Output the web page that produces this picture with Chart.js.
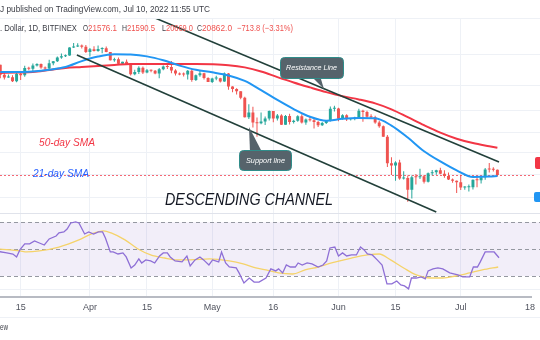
<!DOCTYPE html>
<html><head><meta charset="utf-8">
<script src="https://cdn.jsdelivr.net/npm/chart.js@4.4.1/dist/chart.umd.min.js"></script>
<style>html,body{margin:0;padding:0;background:#fff;overflow:hidden}canvas{display:block}</style>
</head><body>
<canvas id="c" width="540" height="340"></canvas>
<script>
// ---------- DATA (BTC/USD, Bitfinex, daily) ----------
const dates = [
 '03-09','03-10','03-11','03-12','03-13','03-14','03-15','03-16','03-17','03-18','03-19','03-20','03-21','03-22','03-23','03-24','03-25','03-26','03-27','03-28','03-29','03-30','03-31',
 '04-01','04-02','04-03','04-04','04-05','04-06','04-07','04-08','04-09','04-10','04-11','04-12','04-13','04-14','04-15','04-16','04-17','04-18','04-19','04-20','04-21','04-22','04-23','04-24','04-25','04-26','04-27','04-28','04-29','04-30',
 '05-01','05-02','05-03','05-04','05-05','05-06','05-07','05-08','05-09','05-10','05-11','05-12','05-13','05-14','05-15','05-16','05-17','05-18','05-19','05-20','05-21','05-22','05-23','05-24','05-25','05-26','05-27','05-28','05-29','05-30','05-31',
 '06-01','06-02','06-03','06-04','06-05','06-06','06-07','06-08','06-09','06-10','06-11','06-12','06-13','06-14','06-15','06-16','06-17','06-18','06-19','06-20','06-21','06-22','06-23','06-24','06-25','06-26','06-27','06-28','06-29','06-30',
 '07-01','07-02','07-03','07-04','07-05','07-06','07-07','07-08','07-09','07-10'];
const opens = [
 38730,41940,39420,38730,38800,37780,39670,39280,41120,40920,41760,42200,41260,41000,42370,42890,43960,44330,44520,46820,47130,47460,47070,
 45520,46300,45820,46410,46620,45520,43190,43450,42250,42770,42160,39530,40080,41150,39940,40550,40380,39680,40800,41500,41370,40480,39710,39470,39450,40430,38110,39240,39740,38600,
 37650,38480,38530,37730,39690,36550,36010,35470,34060,30090,31010,29100,28970,29280,29860,31320,29870,30420,28710,30310,29200,29430,30300,29100,29660,29530,29200,28620,29030,29460,31730,
 31800,29810,30450,29700,29860,29910,31370,31130,30200,30110,29090,28400,26590,22490,22150,22600,20400,20460,19000,20580,20560,20700,19980,21100,21230,21490,21030,20730,20260,20100,
 19930,19270,19290,19290,20230,20180,20560,21610,21590,21576.1];
const highs = [
 42590,42000,40240,39480,39300,39900,39860,41700,41460,42320,42390,42300,41530,43350,42990,44200,45080,44800,46900,48190,48100,47700,47600,
 46700,47200,47450,46880,47100,45520,43890,43960,42800,43400,42420,40690,41560,41490,40850,40700,40600,41100,41750,42180,42960,40780,39950,39940,40600,40800,39450,40340,39920,38790,
 38680,39150,38640,39950,39820,36650,36150,35500,34250,32650,32150,30050,31000,30250,31420,31320,30730,30650,30500,30750,29600,30450,30650,29830,30200,29850,29380,29180,29580,32200,32350,
 31950,30650,30660,29950,30170,31750,31550,31330,30670,30360,29450,28570,26880,23350,22770,22980,21350,20780,20800,21000,21700,20850,21200,21530,21580,21850,21500,21180,20400,20150,
 20880,19430,19650,20280,20700,20650,21820,22500,21930,21590.5];
const lows = [
 38660,38550,38230,38660,37600,37580,38120,38910,40550,40150,41520,40920,40500,40880,41830,42700,43630,44080,44420,46680,46950,46540,45220,
 44230,45640,45550,45120,45400,43150,42750,42120,42130,42000,39210,39250,39570,39570,39790,40010,39550,38560,40560,40880,39800,39200,39280,38940,38200,37700,37880,38880,38200,37600,
 37400,38050,37500,37680,35800,35260,34760,33720,30020,29740,28180,26600,28770,28650,29480,29150,29470,28660,28680,28730,28930,29250,28900,28700,29310,28030,28280,28450,28820,29300,31220,
 29330,29600,29400,29460,29500,29880,29250,29860,29950,28880,28130,26580,21950,20860,20100,20250,20280,17600,17970,19650,20350,19770,19900,20780,20900,20970,20510,20200,19850,18620,
 18980,18990,18780,19040,19300,19780,20250,21200,21330,20669.0];
const closes = [
 41940,39420,38730,38800,37780,39670,39280,41120,40920,41760,42200,41260,41000,42370,42890,43960,44330,44520,46820,47130,47460,47070,45520,
 46300,45820,46410,46620,45520,43190,43450,42250,42770,42160,39530,40080,41150,39940,40550,40380,39680,40800,41500,41370,40480,39710,39470,39450,40430,38110,39240,39740,38600,37650,
 38480,38530,37730,39690,36550,36010,35470,34060,30090,31010,29100,28970,29280,29860,31320,29870,30420,28710,30310,29200,29430,30300,29100,29660,29530,29200,28620,29030,29460,31730,31800,
 29810,30450,29700,29860,29910,31370,31130,30200,30110,29090,28400,26590,22490,22150,22600,20400,20460,19000,20580,20560,20700,19980,21100,21230,21490,21030,20730,20260,20100,19930,
 19270,19290,19290,20230,20180,20560,21610,21590,21576.1,20862.0];

// moving averages
const smaDates = ['03-10','03-14','03-18','03-22','03-26','03-30','04-03','04-07','04-11','04-15','04-19','04-23','04-27','05-01','05-05','05-09','05-13','05-17','05-21','05-25','05-29','06-02','06-06','06-10','06-14','06-18','06-22','06-26','06-30','07-04','07-08','07-10'];
const sma21 = [40090,40090,40240,40650,41360,42960,44200,44850,44770,44260,43180,41750,40650,40010,39230,37890,35740,33570,31690,30190,29440,29800,29950,29890,28540,26450,24260,22740,21490,20600,20650,20720];
const sma50 = [39830,39960,40090,40600,41120,41380,41650,41910,42180,42180,42180,42180,42180,42100,41860,41280,40220,38810,37510,36360,35290,34380,33690,32850,31640,30100,28610,27300,26260,25540,25040,24810];

// trend lines (day number since Mar 1, price)
const supportDays = [27.8, 116.0];   const supportPrices = [44650, 16500];
const resistDays  = [46.4, 131.4];   const resistPrices  = [56820, 22655];

// RSI (days since Mar 1) and its moving average
const rsiDays = [8.9,10.6,12.1,13.0,13.8,15.0,16.2,17.4,18.6,19.8,21.0,22.7,23.4,24.6,25.4,26.3,27.5,28.3,29.7,30.7,31.9,33.1,34.1,34.8,36.0,36.7,37.9,39.1,39.9,41.1,42.0,43.0,43.7,44.7,45.9,46.9,48.1,49.0,50.0,50.7,51.9,53.6,54.8,55.6,56.8,58.0,58.9,60.2,61.1,62.6,63.3,64.3,65.2,66.9,67.6,68.8,70.1,71.3,72.5,74.2,75.4,76.6,77.3,78.3,79.2,80.2,81.4,82.1,83.1,84.3,85.5,87.0,88.2,89.1,89.9,91.1,92.0,93.0,94.0,95.2,96.4,97.4,98.3,99.1,100.3,101.5,102.7,103.9,105.1,106.3,107.3,108.2,109.2,109.9,111.1,112.3,113.3,114.0,115.2,116.4,117.6,119.3,121.3,122.5,124.2,125.1,126.1,126.8,128.0,130.2,131.4];
const rsiValues = [48.1,47.2,46.4,44.2,49.4,53.9,53.9,56.1,54.6,53.1,57.6,59.8,62.1,62.8,65.0,69.5,70.3,69.5,61.3,62.8,61.3,62.8,62.8,58.3,47.9,47.9,46.4,47.2,44.2,36.0,38.2,42.7,39.7,42.0,41.2,39.7,44.9,47.2,47.2,44.2,41.2,40.5,44.9,37.5,42.0,44.2,42.0,38.2,42.0,40.5,47.9,39.7,36.7,36.0,32.3,24.8,28.5,25.5,25.5,28.5,35.3,33.8,35.3,32.3,38.2,36.7,36.7,39.7,38.2,39.7,39.0,36.7,38.2,41.2,50.9,51.6,44.9,47.2,44.9,45.7,45.7,51.6,49.4,46.4,45.7,42.0,38.2,24.1,24.1,26.3,23.3,22.6,20.4,28.5,28.5,29.3,27.8,33.8,35.3,36.0,35.3,32.3,30.8,29.3,29.3,36.7,36.7,40.5,47.9,47.9,43.6];
const rsiMaDays = [8.9,13.8,15.5,18.6,23.4,28.3,31.4,34.3,36.2,39.6,42.8,45.9,49.3,52.4,55.6,60.4,65.2,68.6,71.7,74.2,77.3,80.7,83.8,87.0,90.3,95.2,99.1,102.0,104.8,108.0,111.1,114.5,117.6,120.8,124.2,127.3,131.2];
const rsiMaValues = [50.1,48.7,47.9,48.7,51.6,56.9,61.3,63.6,62.1,56.9,50.1,45.7,43.4,42.0,42.0,42.7,41.2,39.0,36.0,34.5,32.3,31.5,34.5,36.7,39.7,43.4,45.7,46.4,42.0,36.0,30.8,28.5,28.5,30.0,32.3,34.5,36.7];
const rsiLevels = [70, 50, 30];
const rsiGrid = [20];

// axis ticks
const tickDays = [14, 31, 45, 61, 76, 92, 106, 122, 139];
const tickLabels = ['15','Apr','15','May','16','Jun','15','Jul','18'];
const gridPrices = [45000, 36900, 31500, 27400, 24100, 21000, 18100];

// ---------- helpers ----------
const monthStart = {'03':0,'04':31,'05':61,'06':92,'07':122};
const dayNum = s => monthStart[s.slice(0,2)] + Number(s.slice(3)) - 1;
const UP = '#26a69a', DOWN = '#ef5350';
const candleColors = opens.map((o,i) => closes[i] >= o ? UP : DOWN);
const pts = (xs, ys, conv) => xs.map((v,i) => ({x: conv ? conv(v) : v, y: ys[i]}));

const PRICE_TOP = 18, PRICE_BOTTOM = 213, RSI_TOP = 213, RSI_BOTTOM = 297;

function fitText(ctx, text, x, y, w, font, color) {
  ctx.save();
  ctx.font = font; ctx.fillStyle = color; ctx.textBaseline = 'middle'; ctx.textAlign = 'left';
  const m = ctx.measureText(text).width;
  ctx.translate(x, y); ctx.scale(w / m, 1);
  ctx.fillText(text, 0, 0);
  ctx.restore();
}
function roundRect(ctx, x, y, w, h, r) {
  ctx.beginPath();
  ctx.moveTo(x + r, y); ctx.lineTo(x + w - r, y); ctx.quadraticCurveTo(x + w, y, x + w, y + r);
  ctx.lineTo(x + w, y + h - r); ctx.quadraticCurveTo(x + w, y + h, x + w - r, y + h);
  ctx.lineTo(x + r, y + h); ctx.quadraticCurveTo(x, y + h, x, y + h - r);
  ctx.lineTo(x, y + r); ctx.quadraticCurveTo(x, y, x + r, y); ctx.closePath();
}
function hline(ctx, y, x0, x1) { ctx.beginPath(); ctx.moveTo(x0, y); ctx.lineTo(x1, y); ctx.stroke(); }

const decor = {
  id: 'decor',
  beforeDatasetsDraw(chart) {
    const {ctx, scales: {y, y2}} = chart;
    const W = chart.width;
    ctx.save();
    ctx.lineWidth = 1;
    ctx.strokeStyle = '#eef1f6';
    gridPrices.forEach(p => hline(ctx, Math.round(y.getPixelForValue(p)) + 0.5, 0, W));
    rsiGrid.forEach(v => hline(ctx, Math.round(y2.getPixelForValue(v)) + 0.5, 0, W));
    // RSI band
    const t = y2.getPixelForValue(rsiLevels[0]), b = y2.getPixelForValue(rsiLevels[2]);
    ctx.fillStyle = 'rgba(126,87,194,0.10)';
    ctx.fillRect(0, t, W, b - t);
    ctx.setLineDash([4, 3]);
    ctx.strokeStyle = '#9598a1';
    rsiLevels.forEach(v => hline(ctx, Math.round(y2.getPixelForValue(v)) + 0.5, 0, W));
    ctx.setLineDash([]);
    // pane separator
    ctx.strokeStyle = '#e0e3eb';
    hline(ctx, PRICE_BOTTOM + 0.5, 0, W);
    // last price dotted line
    ctx.setLineDash([2, 2]);
    ctx.strokeStyle = 'rgba(242,54,69,0.75)';
    hline(ctx, Math.round(y.getPixelForValue(closes[closes.length - 1])) + 0.5, 0, 534);
    ctx.restore();
  },
  beforeDatasetDraw(chart, args) {
    const ctx = chart.ctx;
    ctx.save();
    ctx.beginPath();
    if (args.meta.yAxisID === 'y2') ctx.rect(0, RSI_TOP, chart.width, RSI_BOTTOM - RSI_TOP);
    else ctx.rect(0, PRICE_TOP, chart.width, PRICE_BOTTOM - PRICE_TOP);
    ctx.clip();
  },
  afterDatasetDraw(chart) { chart.ctx.restore(); },
  afterDraw(chart) {
    const ctx = chart.ctx;
    const W = chart.width;
    ctx.save();
    // header band
    ctx.fillStyle = '#ffffff';
    ctx.fillRect(0, 0, W, PRICE_TOP);
    ctx.strokeStyle = '#eef1f6'; ctx.lineWidth = 1;
    hline(ctx, PRICE_TOP + 0.5, 0, W);
    hline(ctx, 317.5, 0, W);
    const F = '"Liberation Sans", Arial, sans-serif';
    fitText(ctx, 'J published on TradingView.com, Jul 10, 2022 11:55 UTC', 0, 10, 210, '9px ' + F, '#3b3d45');
    const dark = '#3b3d45', red = '#ef5350';
    fitText(ctx, '. Dollar, 1D, BITFINEX', 0, 29, 77, '9px ' + F, dark);
    fitText(ctx, 'O', 83, 29, 5, '9px ' + F, dark);
    fitText(ctx, '21576.1', 88, 29, 29, '9px ' + F, red);
    fitText(ctx, 'H', 122, 29, 5, '9px ' + F, dark);
    fitText(ctx, '21590.5', 127, 29, 28, '9px ' + F, red);
    fitText(ctx, 'L', 162, 29, 4, '9px ' + F, dark);
    fitText(ctx, '20669.0', 166, 29, 27, '9px ' + F, red);
    fitText(ctx, 'C', 197, 29, 5, '9px ' + F, dark);
    fitText(ctx, '20862.0', 202, 29, 30, '9px ' + F, red);
    fitText(ctx, '\u2212713.8 (\u22123.31%)', 237, 29, 56, '9px ' + F, red);
    // annotations
    fitText(ctx, '50-day SMA', 39, 143, 56, 'italic 10.5px ' + F, '#f23645');
    fitText(ctx, '21-day SMA', 33, 174, 56, 'italic 10.5px ' + F, '#2962ff');
    fitText(ctx, 'DESCENDING CHANNEL', 165, 200, 168, 'italic 16.5px ' + F, '#131722');
    // callouts
    const boxFill = '#56636b', boxLine = '#2f8d8a';
    ctx.fillStyle = boxFill;
    ctx.beginPath(); ctx.moveTo(311, 76); ctx.lineTo(320, 76); ctx.lineTo(324, 89); ctx.closePath(); ctx.fill();
    roundRect(ctx, 280.5, 57.5, 63, 21, 4); ctx.fill(); ctx.strokeStyle = boxLine; ctx.stroke();
    fitText(ctx, 'Resistance Line', 286, 68, 51, 'italic 8px ' + F, '#ffffff');
    ctx.fillStyle = boxFill;
    ctx.beginPath(); ctx.moveTo(249, 127); ctx.lineTo(250, 152); ctx.lineTo(262, 152); ctx.closePath(); ctx.fill();
    roundRect(ctx, 239.5, 150.5, 52, 20, 4); ctx.fill(); ctx.strokeStyle = boxLine; ctx.stroke();
    fitText(ctx, 'Support line', 246, 160.5, 39, 'italic 8px ' + F, '#ffffff');
    // price scale tags (cut at the right edge)
    ctx.fillStyle = '#f23645'; roundRect(ctx, 535, 157, 10, 12, 2); ctx.fill();
    ctx.fillStyle = '#2196f3'; roundRect(ctx, 534, 192, 10, 10, 2); ctx.fill();
    fitText(ctx, 'ew', 0, 328, 8, '9px ' + F, dark);
    ctx.restore();
  }
};

const dx = dates.map(dayNum);

new Chart(document.getElementById('c'), {
  type: 'bar',
  data: {
    datasets: [
      { type: 'line', label: 'Resistance', data: pts(resistDays, resistPrices), yAxisID: 'y', borderColor: '#22403a', borderWidth: 1.6, pointRadius: 0, order: 0 },
      { type: 'line', label: 'Support', data: pts(supportDays, supportPrices), yAxisID: 'y', borderColor: '#22403a', borderWidth: 1.6, pointRadius: 0, order: 0 },
      { type: 'line', label: 'SMA 21', data: pts(smaDates, sma21, dayNum), yAxisID: 'y', borderColor: '#2196f3', borderWidth: 2, pointRadius: 0, cubicInterpolationMode: 'monotone', order: 1 },
      { type: 'line', label: 'SMA 50', data: pts(smaDates, sma50, dayNum), yAxisID: 'y', borderColor: '#f23645', borderWidth: 2, pointRadius: 0, cubicInterpolationMode: 'monotone', order: 2 },
      { type: 'bar', label: 'Body', data: dx.map((d,i) => ({x: d, y: [opens[i], closes[i]]})), yAxisID: 'y', backgroundColor: candleColors, grouped: false, maxBarThickness: 3, minBarLength: 1, borderWidth: 0, order: 3 },
      { type: 'bar', label: 'Wick', data: dx.map((d,i) => ({x: d, y: [lows[i], highs[i]]})), yAxisID: 'y', backgroundColor: candleColors, grouped: false, maxBarThickness: 1, borderWidth: 0, order: 4 },
      { type: 'line', label: 'RSI', data: pts(rsiDays, rsiValues), yAxisID: 'y2', borderColor: '#8e6fd6', borderWidth: 1.3, pointRadius: 0, order: 0 },
      { type: 'line', label: 'RSI MA', data: pts(rsiMaDays, rsiMaValues), yAxisID: 'y2', borderColor: '#f5d36a', borderWidth: 1.3, pointRadius: 0, cubicInterpolationMode: 'monotone', order: 1 }
    ]
  },
  options: {
    responsive: false,
    animation: false,
    events: [],
    layout: { padding: 0, autoPadding: false },
    plugins: { legend: { display: false }, tooltip: { enabled: false }, title: { display: false } },
    scales: {
      x: {
        type: 'linear', position: 'bottom', min: 8.93, max: 139.4, offset: false, bounds: 'data',
        grid: { offset: false, drawTicks: false, color: ctx => (ctx.tick && ctx.tick.value > 135) ? 'rgba(0,0,0,0)' : '#eef1f6' },
        border: { display: true, color: '#b8bbc3', width: 2 },
        afterBuildTicks: s => { s.ticks = tickDays.map(v => ({ value: v })); },
        afterFit: s => { s.height = 43; },
        ticks: { autoSkip: false, maxRotation: 0, padding: 5, color: '#50535e',
                 font: { family: '"Liberation Sans", Arial, sans-serif', size: 9 },
                 callback: (v, i) => tickLabels[i] }
      },
      y: { type: 'logarithmic', display: false, min: 9624.5, max: 63283, bounds: 'data', beginAtZero: false },
      y2: { type: 'linear', display: false, min: 14.36, max: 235.59, bounds: 'data', beginAtZero: false }
    }
  },
  plugins: [decor]
});
</script>
</body></html>
